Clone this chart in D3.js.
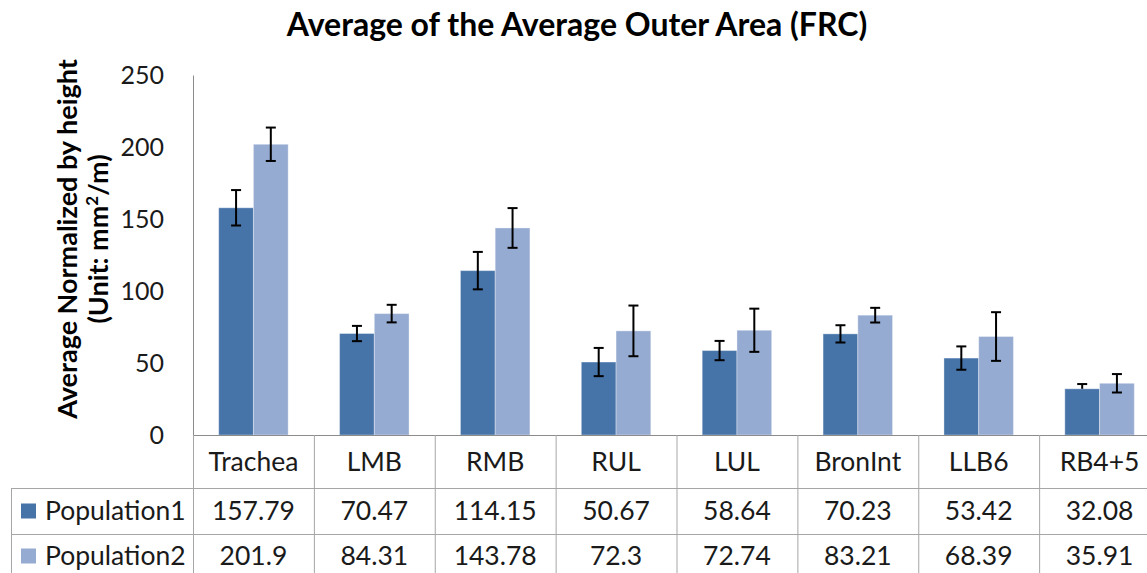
<!DOCTYPE html>
<html>
<head>
<meta charset="utf-8">
<script src="https://cdn.jsdelivr.net/npm/d3@7"></script>
<style>
  body { margin: 0; background: #fff; overflow: hidden; }
  svg { display: block; font-family: Lato, "Open Sans", sans-serif; }
</style>
</head>
<body>
<svg id="chart" width="1147" height="573"></svg>
<script>
// categories and series
const categories = ["Trachea", "LMB", "RMB", "RUL", "LUL", "BronInt", "LLB6", "RB4+5"];
const seriesNames = ["Population1", "Population2"];
const population1 = [157.79, 70.47, 114.15, 50.67, 58.64, 70.23, 53.42, 32.08];
const population2 = [201.9, 84.31, 143.78, 72.3, 72.74, 83.21, 68.39, 35.91];
// error bars, plus and minus
const err1Plus  = [12.3, 5.3, 13.0, 9.8, 6.7, 6.0, 8.1, 3.3];
const err1Minus = [12.3, 5.3, 13.0, 9.8, 6.7, 6.0, 8.1, 0];
const err2Plus  = [11.6, 6.1, 13.8, 17.6, 15.0, 5.1, 16.9, 6.4];
const err2Minus = [11.6, 6.1, 13.8, 17.6, 15.0, 5.1, 16.9, 6.4];
const yTicks = [0, 50, 100, 150, 200, 250];

const colors = ["#4673a8", "#96abd1"];
const gridColor = "#a6a6a6";

const svg = d3.select("#chart");

const plotLeft = 193, plotRight = 1160, plotTop = 75, plotBottom = 435;
const headerBottom = 488, row1Bottom = 534, row2Bottom = 580, tableLeft = 11;

const x0 = d3.scaleBand().domain(categories).range([plotLeft, plotRight]).padding(0);
const x1 = d3.scaleBand().domain(seriesNames).range([0, x0.bandwidth()])
    .paddingInner(0).paddingOuter(0.74);
const y = d3.scaleLinear().domain([0, 250]).range([plotBottom, plotTop]);

const rows = categories.map((c, i) => ({
    cat: c,
    vals: [
        { s: seriesNames[0], v: population1[i], up: err1Plus[i], dn: err1Minus[i], k: 0 },
        { s: seriesNames[1], v: population2[i], up: err2Plus[i], dn: err2Minus[i], k: 1 }
    ]
}));

// title
svg.append("text")
    .attr("x", 577).attr("y", 36)
    .attr("text-anchor", "middle")
    .style("font-size", "32px").style("font-weight", "bold")
    .style("fill", "#000")
    .text("Average of the Average Outer Area (FRC)");

// y axis label, two lines
const yl = svg.append("g").attr("transform", "translate(0,239) rotate(-90)");
yl.append("text")
    .attr("x", 0).attr("y", 77)
    .attr("text-anchor", "middle")
    .style("font-size", "27px").style("font-weight", "bold")
    .text("Average Normalized by height");
const l2 = yl.append("text")
    .attr("x", 0).attr("y", 108)
    .attr("text-anchor", "middle")
    .style("font-size", "27px").style("font-weight", "bold");
l2.append("tspan").text("(Unit: mm");
l2.append("tspan").attr("dy", -10).style("font-size", "17px").text("2");
l2.append("tspan").attr("dy", 10).text("/m)");

// y axis
const yAxis = d3.axisLeft(y).tickValues(yTicks).tickSize(0).tickPadding(29);
const gy = svg.append("g").attr("transform", `translate(${plotLeft},0)`).call(yAxis);
gy.select(".domain").attr("stroke", "#8c8c8c").attr("stroke-width", 1);
gy.selectAll("text").style("font-size", "25px").style("fill", "#1a1a1a")
    .style("font-family", "Lato, 'Open Sans', sans-serif");

// bars
const groups = svg.append("g").selectAll("g").data(rows).join("g")
    .attr("transform", d => `translate(${x0(d.cat)},0)`);

groups.selectAll("rect").data(d => d.vals).join("rect")
    .attr("x", d => x1(d.s))
    .attr("y", d => y(d.v))
    .attr("width", x1.bandwidth())
    .attr("height", d => y(0) - y(d.v))
    .attr("fill", d => colors[d.k])
    .attr("stroke", "rgba(255,255,255,0.35)")
    .attr("stroke-width", 1);

// error bars
const eb = groups.selectAll("g.err").data(d => d.vals).join("g").attr("class", "err")
    .attr("transform", d => `translate(${x1(d.s) + x1.bandwidth() / 2},0)`);
eb.append("line")
    .attr("x1", 0).attr("x2", 0)
    .attr("y1", d => y(d.v + d.up)).attr("y2", d => y(d.v - d.dn))
    .attr("stroke", "#000").attr("stroke-width", 2);
eb.append("line")
    .attr("x1", -5).attr("x2", 5)
    .attr("y1", d => y(d.v + d.up)).attr("y2", d => y(d.v + d.up))
    .attr("stroke", "#000").attr("stroke-width", 2);
eb.filter(d => d.dn > 0).append("line")
    .attr("x1", -5).attr("x2", 5)
    .attr("y1", d => y(d.v - d.dn)).attr("y2", d => y(d.v - d.dn))
    .attr("stroke", "#000").attr("stroke-width", 2);

// data table
const table = svg.append("g").attr("stroke", gridColor).attr("stroke-width", 1).attr("fill", "none");
table.append("line").attr("x1", plotLeft).attr("x2", plotRight)
    .attr("y1", plotBottom + 0.5).attr("y2", plotBottom + 0.5).attr("stroke", "#8c8c8c");
[headerBottom, row1Bottom].forEach(yy => {
    table.append("line").attr("x1", tableLeft).attr("x2", plotRight)
        .attr("y1", yy + 0.5).attr("y2", yy + 0.5);
});
table.append("line").attr("x1", tableLeft + 0.5).attr("x2", tableLeft + 0.5)
    .attr("y1", headerBottom).attr("y2", row2Bottom);
categories.concat(["_end"]).forEach((c, i) => {
    const xx = plotLeft + i * x0.bandwidth();
    table.append("line").attr("x1", xx + 0.5).attr("x2", xx + 0.5)
        .attr("y1", plotBottom).attr("y2", row2Bottom);
});

const txt = svg.append("g").style("font-size", "26.5px").style("fill", "#1a1a1a");
txt.selectAll("text.cat").data(categories).join("text").attr("class", "cat")
    .attr("x", d => x0(d) + x0.bandwidth() / 2)
    .attr("y", (plotBottom + headerBottom) / 2)
    .attr("dy", "0.35em")
    .attr("text-anchor", "middle")
    .text(d => d);

const rowY = [(headerBottom + row1Bottom) / 2, (row1Bottom + row2Bottom) / 2 - 1];
[population1, population2].forEach((vals, k) => {
    txt.selectAll("text.v" + k).data(vals).join("text").attr("class", "v" + k)
        .attr("x", (d, i) => x0(categories[i]) + x0.bandwidth() / 2)
        .attr("y", rowY[k])
        .attr("dy", "0.35em")
        .attr("text-anchor", "middle")
        .text(d => String(d));
    svg.append("rect")
        .attr("x", 21).attr("y", rowY[k] - 7.5)
        .attr("width", 15).attr("height", 15)
        .attr("fill", colors[k]);
    txt.append("text")
        .attr("x", 45).attr("y", rowY[k])
        .attr("dy", "0.35em")
        .text(seriesNames[k]);
});
</script>
</body>
</html>
